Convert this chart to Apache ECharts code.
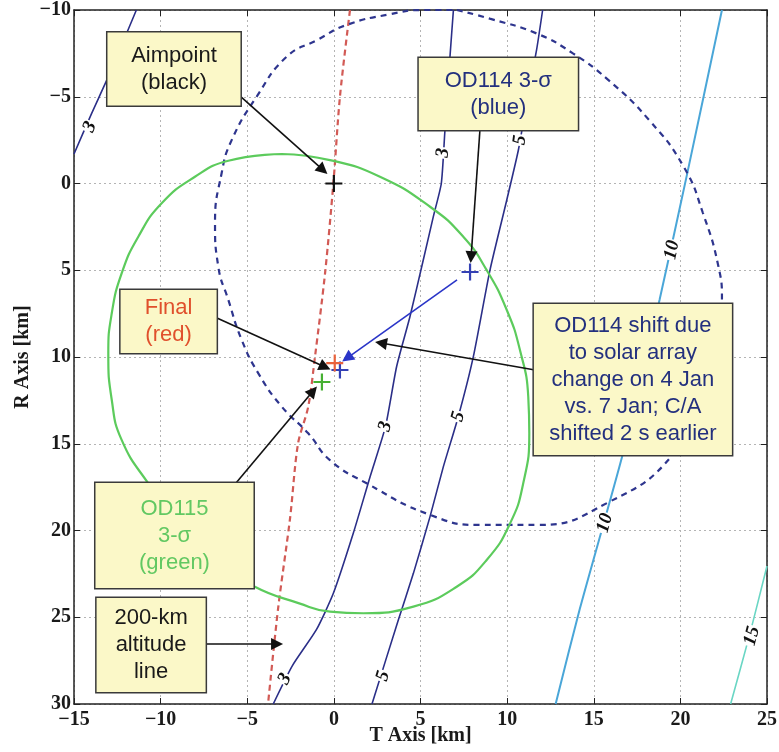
<!DOCTYPE html>
<html><head><meta charset="utf-8">
<script src="https://cdn.jsdelivr.net/npm/echarts@6/dist/echarts.min.js"></script>
<style>html,body{margin:0;padding:0;background:#fff}#c{width:779px;height:752px}</style>
</head><body><div id="c"></div>
<script>
// ---------- data (T [km], R [km]) ----------
const tTicks = [-15, -10, -5, 0, 5, 10, 15, 20, 25];
const rTicks = [-10, -5, 0, 5, 10, 15, 20, 25, 30];

const od115Ellipse = [[-3.01,-1.7],[-0.23,-1.35],[2.66,-0.39],[5.55,1.34],[7.47,3.07],[8.82,4.99],[9.98,7.29],[10.74,9.6],[11.22,12.29],[11.28,14.4],[10.93,17.28],[10.17,19.59],[8.82,21.7],[7.09,23.24],[4.59,24.39],[1.7,24.77],[-0.22,24.68],[-2.0,24.2],[-4.65,23.2],[-7.8,21.2],[-10.73,17.26],[-12.25,14.78],[-12.82,12.48],[-13.02,9.79],[-12.82,7.48],[-12.25,5.18],[-11.29,3.07],[-9.94,1.14],[-8.02,-0.39],[-6.09,-1.31],[-3.01,-1.7]];

const od114Circle = [[7.1,-10],[9.0,-9.5],[11.7,-8.65],[13.8,-7.5],[15.8,-6.0],[18.2,-3.65],[20.2,-0.95],[21.3,1.7],[22.2,4.8],[22.4,6.7],[21.9,9.0],[20.9,12.5],[19.6,15.6],[15.8,18.4],[11.71,19.68],[8.43,19.68],[5.55,19.1],[1.89,17.28],[-0.23,15.94],[-1.48,14.4],[-3.01,12.86],[-4.36,10.94],[-5.32,9.02],[-6.09,6.71],[-6.67,4.8],[-6.86,2.29],[-6.48,-0.59],[-5.9,-2.5],[-4.46,-5.0],[-2.72,-7.31],[-0.97,-8.27],[0.74,-9.14],[3.2,-9.75],[5.2,-10],[7.1,-10]];

const altitudeLine = [[0.93,-10],[0.35,-5],[-0.03,0],[-0.51,5.18],[-1.09,9.98],[-1.48,12.86],[-2.07,15],[-2.53,19.3],[-3.22,24.5],[-3.8,30]];

const contour3Left = [[-15,-1.7],[-14.0,-4.0],[-13.0,-6.2],[-11.4,-10]];
const contour3Mid = [[6.9,-10],[6.7,-7.3],[6.4,-2.9],[6.2,0],[5.74,1.91],[5.16,4.41],[4.39,7.68],[3.62,10.56],[2.98,14.0],[2.09,16.9],[1.12,20.16],[-0.03,23.62],[-1.0,25.7],[-2.4,27.8],[-3.5,30]];
const contour5 = [[12.05,-10],[11.7,-7.7],[11.1,-4.5],[10.65,-1.93],[9.98,0.95],[9.01,4.99],[8.05,9.98],[7.18,13.44],[6.32,16.32],[5.55,19.2],[4.59,22.47],[3.72,25.16],[2.2,30]];
const contour10 = [[22.4,-10],[20.4,-0.6],[18.8,6.7],[16.7,15.5],[14.2,24.5],[12.8,30]];
const contour15 = [[25,22.05],[24.0,26.0],[22.9,30]];

const contourLabelText = ['3','3','5','3','5','10','10','15','3','5'];
const contourLabelPos = [[-14.08,-3.26],[6.3,-1.76],[10.75,-2.5],[2.98,14.0],[7.18,13.44],[19.52,3.83],[15.65,19.57],[24.13,26.08],[-2.82,28.56],[2.84,28.39]];

const aimpoint = [0, 0];
const od114Point = [7.86, 5.1];
const finalPoint = [0.05, 10.35];
const od114Shifted = [0.35, 10.75];
const od115Point = [-0.69, 11.44];

const noteTexts = ['Aimpoint\n(black)', 'OD114 3-\u03c3\n(blue)', 'Final\n(red)',
  'OD114 shift due\nto solar array\nchange on 4 Jan\nvs. 7 Jan; C/A\nshifted 2 s earlier',
  'OD115\n3-\u03c3\n(green)', '200-km\naltitude\nline'];

// ---------- layout / styles ----------
const noteLayout = [
  {pos:[-9.23,-6.6], w:133, pv:9.5, color:'#1a1a1a'},
  {pos:[9.49,-5.16], w:159, pv:9, color:'#23307e'},
  {pos:[-9.54,7.95], w:96, pv:4.5, color:'#e0502c'},
  {pos:[17.26,11.3], w:198, pv:8, color:'#23307e'},
  {pos:[-9.2,20.29], w:158, pv:12, color:'#62c862'},
  {pos:[-10.55,26.6], w:109, pv:6.5, color:'#1a1a1a'}
];
const arrowLayout = [
  {from:[-5.36,-4.99], to:[-0.63,-0.78], color:'#111'},
  {from:[8.43,-3.08], to:[7.92,4.24], color:'#111'},
  {from:[-6.75,7.75], to:[-0.51,10.58], color:'#111'},
  {from:[11.61,10.75], to:[2.72,9.19], color:'#111'},
  {from:[-5.65,17.26], to:[-1.2,11.96], color:'#111'},
  {from:[-7.38,26.54], to:[-3.28,26.54], color:'#111'},
  {from:[7.11,5.56], to:[0.76,10.06], color:'#2a35c8'}
];
const labelRotate = [66,85,82,76,74,78,75,75,62,73];
const plusPath = 'path://M-1.3,-10H1.3V-1.3H10V1.3H1.3V10H-1.3V1.3H-10V-1.3H-1.3Z';
const fmt = v => String(v).replace('-', '\u2212');
const axisFont = {fontFamily:'Liberation Serif', fontWeight:'bold', fontSize:20, color:'#1a1a1a'};
const gridLine = {show:true, lineStyle:{color:'#b4b4b4', type:[2,3], width:1}};

function lineSeries(data, color, width, type, smooth, z) {
  return {type:'line', data, showSymbol:false, symbol:'none', smooth:smooth,
    lineStyle:{color, width, type}, z:z||3, silent:true, animation:false};
}
function frameAxis(pos, isY) {
  const ticks = isY ? rTicks : tTicks;
  return {type:'value', inverse:isY, min:ticks[0], max:ticks[ticks.length-1], interval:ticks[1]-ticks[0],
    position:pos, axisLine:{onZero:false, lineStyle:{color:'#222', width:1.5}},
    axisTick:{inside:true, length:6, lineStyle:{color:'#222'}},
    axisLabel:{show:false}, splitLine:{show:false}};
}

const chart = echarts.init(document.getElementById('c'), null, {renderer:'canvas'});
chart.setOption({
  animation:false,
  backgroundColor:'#fff',
  grid:{left:74, right:12, top:10, bottom:48, containLabel:false, outerBoundsMode:'none'},
  xAxis:[{
    type:'value', min:tTicks[0], max:tTicks[tTicks.length-1], interval:tTicks[1]-tTicks[0],
    position:'bottom', name:'T Axis [km]', nameLocation:'middle', nameGap:22, nameMoveOverlap:false,
    nameTextStyle:Object.assign({}, axisFont, {fontSize:20}),
    axisLine:{onZero:false, lineStyle:{color:'#222', width:1.5}},
    axisTick:{inside:true, length:6, lineStyle:{color:'#222'}},
    axisLabel:Object.assign({formatter:fmt, margin:6}, axisFont),
    splitLine:gridLine
  }, frameAxis('top', false)],
  yAxis:[{
    type:'value', inverse:true, min:rTicks[0], max:rTicks[rTicks.length-1], interval:rTicks[1]-rTicks[0],
    position:'left', name:'R Axis [km]', nameLocation:'middle', nameGap:41, nameRotate:90, nameMoveOverlap:false,
    nameTextStyle:Object.assign({}, axisFont, {fontSize:20}),
    axisLine:{onZero:false, lineStyle:{color:'#222', width:1.5}},
    axisTick:{inside:true, length:6, lineStyle:{color:'#222'}},
    axisLabel:Object.assign({formatter:fmt, margin:3}, axisFont),
    splitLine:gridLine
  }, frameAxis('right', true)],
  series:[
    lineSeries(contour3Left, '#2b2f88', 1.6, 'solid', 0.2),
    lineSeries(contour3Mid, '#2b2f88', 1.6, 'solid', 0.2),
    lineSeries(contour5, '#2b2f88', 1.6, 'solid', 0.2),
    lineSeries(contour10, '#4aa6d8', 2, 'solid', 0.2),
    lineSeries(contour15, '#6ad6c4', 1.6, 'solid', 0.2),
    lineSeries(altitudeLine, '#d25a55', 2.2, [6,4], 0.3),
    lineSeries(od114Circle, '#2e358e', 2.2, [6,5], 0.5),
    lineSeries(od115Ellipse, '#5ccb5c', 2.2, 'solid', 0.5),
    {type:'scatter', z:5, silent:true, symbolSize:1, itemStyle:{color:'transparent', opacity:1},
     data:contourLabelPos.map((p,i)=>({value:p, label:{show:true, position:'inside', formatter:contourLabelText[i], rotate:labelRotate[i]}})),
     label:{fontFamily:'Liberation Serif', fontWeight:'bold', fontStyle:'italic', fontSize:19, color:'#111', backgroundColor:'#fff', padding:[0,1]}},
    {type:'scatter', z:7, silent:true, symbol:plusPath, symbolSize:17, itemStyle:{opacity:1},
     data:[
       {value:aimpoint, itemStyle:{color:'#111'}},
       {value:od114Point, itemStyle:{color:'#3440b4'}},
       {value:od114Shifted, itemStyle:{color:'#3440b4'}},
       {value:finalPoint, itemStyle:{color:'#e8623c'}},
       {value:od115Point, itemStyle:{color:'#46b032'}}
     ]},
    {type:'lines', coordinateSystem:'cartesian2d', zlevel:1, z:1, silent:true, symbol:['none','triangle'], symbolSize:[1,12],
     data:arrowLayout.map(a=>({coords:[a.from, a.to], lineStyle:{color:a.color}, itemStyle:{color:a.color}})),
     lineStyle:{width:1.6, opacity:1}},
    {type:'scatter', zlevel:1, z:2, silent:true, symbolSize:1, itemStyle:{color:'transparent', opacity:1},
     data:noteLayout.map((n,i)=>({value:n.pos, label:{show:true, position:'inside', formatter:noteTexts[i], color:n.color, width:n.w, padding:[n.pv,0]}})),
     label:{fontFamily:'Liberation Sans', fontSize:22, lineHeight:27, align:'center', verticalAlign:'middle',
       backgroundColor:'#fbf8c8', borderColor:'#3a3a3a', borderWidth:1.5}}
  ]
});
</script></body></html>
